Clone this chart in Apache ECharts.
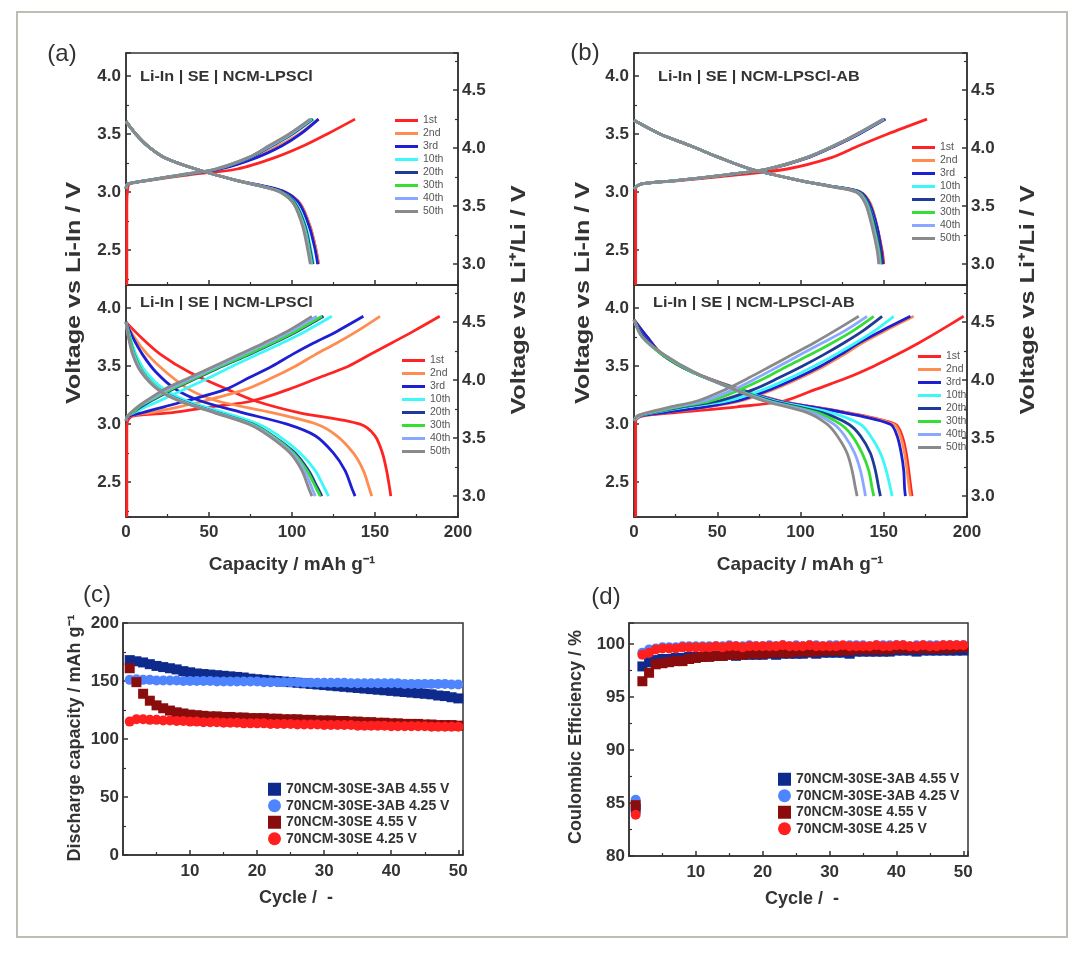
<!DOCTYPE html>
<html>
<head>
<meta charset="utf-8">
<script src="https://cdn.jsdelivr.net/npm/echarts@6/dist/echarts.min.js"></script>
<style>
  html, body { margin: 0; padding: 0; background: #fff; }
  #chart { width: 1084px; height: 958px; }
</style>
</head>
<body>
<div id="chart"></div>
<script>
const FONT = '"Liberation Sans", Arial, sans-serif'

const cycles = ['1st', '2nd', '3rd', '10th', '20th', '30th', '40th', '50th']
const cycleColors = ['#ff2424', '#ff8c50', '#1e1ed2', '#3cf8f8', '#1f3a98', '#35dd35', '#8aa8ff', '#8a8a8a']

// (a) top: Li-In | SE | NCM-LPSCl, cut-off 3.63 V vs Li-In
const aTopFirstRise = [[0.5, 2.2], [0.5, 2.9]]
const aTopChargeV = [3.03, 3.07, 3.10, 3.15, 3.20, 3.30, 3.40, 3.50, 3.63]
const aTopChargeCap = [
  [1, 2, 13, 38, 67, 90, 107, 121, 138],
  [0, 1, 12, 35, 56, 78, 92, 104, 116],
  [0, 1, 12, 34, 57, 79, 94, 105, 116],
  [0, 1, 12, 34, 55, 75, 88, 100, 113],
  [0, 1, 12, 34, 55, 75, 88, 100, 112.5],
  [0, 1, 12, 33, 54, 74, 87, 99, 112],
  [0, 1, 12, 33, 54, 74, 87, 99, 111.5],
  [0, 1, 12, 33, 54, 74, 86, 98, 111]
]
const aTopDischargeV = [3.61, 3.50, 3.40, 3.30, 3.20, 3.10, 3.05, 3.00, 2.90, 2.70, 2.50, 2.38]
const aTopDischargeCap = [
  [0, 6, 13, 23, 42, 67, 83, 96, 105, 111, 114.5, 116],
  [0, 6, 13, 23, 42, 67, 83, 96, 105, 111, 114.5, 116],
  [0, 6, 13, 23, 42, 67, 84, 96, 104.5, 110.5, 114, 115.5],
  [0, 6, 13, 23, 42, 67, 82, 94, 102.5, 108.5, 111.5, 113],
  [0, 6, 13, 23, 42, 67, 82, 94, 102, 108, 111, 112.5],
  [0, 6, 13, 23, 42, 67, 82, 93.5, 101.5, 107.5, 110.5, 112],
  [0, 6, 13, 23, 42, 67, 82, 93, 101, 107, 110, 111.5],
  [0, 6, 13, 23, 42, 67, 82, 93, 101, 106.5, 109.5, 111]
]

// (a) bottom: cut-off 3.93 V vs Li-In
const aBotFirstRise = [[0.5, 2.2], [0.5, 2.95]]
const aBotChargeV = [3.03, 3.07, 3.10, 3.15, 3.20, 3.30, 3.40, 3.50, 3.60, 3.70, 3.80, 3.93]
const aBotChargeCap = [
  [1, 4, 28, 52, 76, 98, 116, 134, 147, 160, 173, 189],
  [0, 2, 15, 32, 47, 72, 88, 102, 114, 127, 139, 153],
  [0, 2, 10, 23, 36, 60, 74, 88, 100, 113, 127, 143],
  [0, 1, 5, 12, 20, 35, 50, 64, 79, 94, 108, 124],
  [0, 1, 4, 9, 15, 28, 43, 58, 74, 89, 103, 119],
  [0, 1, 4, 8, 14, 27, 42, 57, 73, 88, 102, 118],
  [0, 1, 3, 7, 13, 25, 40, 55, 70, 85, 99, 115],
  [0, 1, 3, 7, 12, 23, 38, 53, 68, 83, 97, 112]
]
const aBotDischargeV = [3.88, 3.75, 3.60, 3.45, 3.30, 3.20, 3.10, 3.00, 2.90, 2.75, 2.60, 2.45, 2.38]
const aBotDischargeCap = [
  [0, 9, 21, 38, 61, 78, 104, 141, 150, 154.5, 157, 158.8, 159.5],
  [0, 5, 13, 24, 38, 55, 88, 115, 127, 137, 143, 146.5, 148],
  [0, 4, 10, 18, 30, 45, 70, 97, 114, 125, 132, 136, 138],
  [0, 2.5, 6, 12, 23, 37, 59, 80, 92, 105, 114, 119.5, 122],
  [0, 2, 5, 10, 20, 34, 55, 76.5, 88.5, 102, 110, 115.5, 118],
  [0, 2, 5, 10, 20, 33.5, 54.5, 76, 88, 101, 109, 114.5, 117],
  [0, 1.5, 4.5, 9.5, 19.5, 33, 54, 75, 87, 100, 107.5, 112, 114],
  [0, 1.5, 4, 9, 19, 32, 53, 74, 86, 99, 106, 110, 112]
]

// (b) top: Li-In | SE | NCM-LPSCl-AB
const bTopFirstRise = [[1, 2.2], [1, 2.95]]
const bTopChargeV = [3.03, 3.07, 3.10, 3.15, 3.20, 3.30, 3.40, 3.50, 3.63]
const bTopChargeCap = [
  [1, 4, 27, 62, 92, 119, 135, 152, 176],
  [0, 4, 25, 56, 81, 105, 121, 135, 151],
  [0, 4, 25, 56, 81, 105, 121, 135, 151],
  [0, 4, 25, 55, 80, 104, 120, 134, 150.5],
  [0, 4, 25, 55, 80, 104, 120, 134, 150.5],
  [0, 4, 25, 55, 80, 104, 120, 134, 150],
  [0, 4, 25, 55, 80, 104, 120, 134, 150],
  [0, 4, 25, 55, 80, 104, 120, 133.5, 149.5]
]
const bTopDischargeV = [3.62, 3.50, 3.40, 3.30, 3.20, 3.10, 3.05, 3.00, 2.90, 2.70, 2.50, 2.38]
const bTopDischargeCap = [
  [0, 16, 34, 51, 70, 100, 119, 136, 142, 146, 149, 150],
  [0, 16, 34, 51, 70, 100, 119, 136, 142, 146, 148.5, 149.5],
  [0, 16, 34, 51, 70, 100, 119, 136, 141.5, 146, 148.5, 149.5],
  [0, 16, 34, 51, 70, 100, 118.5, 135, 140.5, 145, 147.5, 148.5],
  [0, 16, 34, 51, 70, 100, 118.5, 135, 140.5, 145, 148, 149],
  [0, 16, 34, 51, 70, 100, 118, 134.5, 140, 144, 147, 148],
  [0, 16, 34, 51, 70, 100, 118, 134, 139.5, 143.5, 146.5, 147.5],
  [0, 16, 34, 51, 70, 100, 117.5, 133.5, 139, 143, 146, 147]
]

// (b) bottom
const bBotFirstRise = [[1, 2.2], [1, 2.95]]
const bBotChargeV = [3.03, 3.07, 3.10, 3.15, 3.20, 3.30, 3.40, 3.50, 3.60, 3.70, 3.80, 3.93]
const bBotChargeCap = [
  [1, 5, 25, 62, 90, 109, 128, 144, 158, 171, 183, 198],
  [0, 3, 19, 45, 64, 84, 100, 114, 126, 137, 150, 168],
  [0, 3, 18, 43, 62, 82, 98, 112, 124, 135, 148, 166],
  [0, 3, 12, 32, 56, 78, 94, 108, 121, 133, 144, 156],
  [0, 2, 11, 29, 51, 72, 87, 101, 114, 126, 137, 149],
  [0, 2, 10, 27, 46, 64, 79, 92, 106, 119, 131, 144],
  [0, 2, 9, 24, 42, 60, 74, 87, 100, 113, 126, 140],
  [0, 2, 8, 22, 38, 55, 69, 82, 95, 108, 120, 135]
]
const bBotDischargeV = [3.90, 3.75, 3.60, 3.45, 3.30, 3.20, 3.10, 3.00, 2.90, 2.75, 2.60, 2.45, 2.38]
const bBotDischargeCap = [
  [0, 8, 17, 35, 64, 88, 128, 157, 161, 163.5, 165, 166.3, 167],
  [0, 8, 17, 35, 64, 88, 127, 156, 160, 162.5, 164, 165.3, 166],
  [0, 8, 17, 35, 63, 87, 126, 154, 158, 160.5, 162, 162.5, 163],
  [0, 6, 17, 35, 62, 85, 118, 136, 142, 148, 151.5, 154, 155],
  [0, 6, 17, 35, 61, 83, 113, 129, 136, 142, 145, 147, 148],
  [0, 5, 17, 35, 61, 81, 110, 124, 131, 137, 141, 143, 144],
  [0, 5, 18, 36, 60, 80, 107, 120, 126.5, 132.5, 136, 138.2, 139],
  [0, 5, 18, 36, 60, 78, 104, 116, 122, 128, 131, 133, 134]
]

// (c) discharge capacity vs cycle, (d) coulombic efficiency vs cycle
const cellNames = ['70NCM-30SE-3AB 4.55 V', '70NCM-30SE-3AB 4.25 V', '70NCM-30SE 4.55 V', '70NCM-30SE 4.25 V']
const cellColors = ['#0e2a8c', '#4f84ff', '#8a0c0c', '#ff1f1f']
const cellSymbols = ['rect', 'circle', 'rect', 'circle']

const capAB455 = [168, 167, 166, 164.5, 163, 162, 161, 160, 158.5, 157.5, 156.5, 156, 155.5, 155, 154.5, 154, 153.5, 153, 152, 151.5,
  151, 150.5, 150, 149.5, 149, 148.5, 148, 147.5, 147, 146.5, 146, 145.5, 145, 144.5, 144, 143.5, 143, 142.5, 142, 141.5,
  141, 140.5, 140, 139.5, 139, 138.5, 137.5, 137, 136, 135]
const capAB425 = [151, 151.5, 151, 151, 150.5, 150.5, 150.5, 150.5, 150, 150, 150, 150, 150, 149.5, 149.5, 149.5, 149.5, 149.5, 149.5, 149.5,
  149, 149, 149, 149, 149, 149, 148.5, 148.5, 148.5, 148.5, 148.5, 148.5, 148.5, 148, 148, 148, 148, 148, 148, 148,
  148, 147.5, 147.5, 147.5, 147.5, 147.5, 147.5, 147.5, 147, 147]
const capSE455 = [161, 149, 139, 133, 129, 126.5, 124.5, 123, 122, 121, 120.5, 120, 119.5, 119.5, 119, 119, 118.5, 118.5, 118, 118,
  118, 117.5, 117.5, 117, 117, 117, 116.5, 116.5, 116, 116, 116, 115.5, 115.5, 115, 115, 114.5, 114.5, 114, 114, 113.5,
  113.5, 113, 113, 113, 112.5, 112.5, 112, 112, 112, 111.5]
const capSE425 = [115, 117, 117, 116.5, 116.5, 116, 116, 115.5, 115.5, 115, 115, 114.5, 114.5, 114.5, 114, 114, 114, 113.5, 113.5, 113.5,
  113.5, 113, 113, 113, 113, 112.5, 112.5, 112.5, 112.5, 112, 112, 112, 112, 112, 111.5, 111.5, 111.5, 111.5, 111.5, 111,
  111, 111, 111, 111, 111, 110.5, 110.5, 110.5, 110.5, 110.5]

const ceAB455 = [84.5, 97.9, 98.3, 98.5, 98.6, 98.6, 98.7, 98.7, 98.8, 98.8, 98.8, 98.9, 98.9, 98.9, 99.0, 98.9, 99.0, 99.0, 99.0, 99.0,
  99.1, 99.0, 99.1, 99.1, 99.1, 99.1, 99.2, 99.1, 99.2, 99.2, 99.2, 99.2, 99.1, 99.3, 99.3, 99.3, 99.3, 99.3, 99.3, 99.4,
  99.4, 99.4, 99.3, 99.4, 99.4, 99.4, 99.4, 99.4, 99.4, 99.4]
const ceAB425 = [85.3, 99.2, 99.5, 99.6, 99.7, 99.7, 99.7, 99.8, 99.8, 99.8, 99.8, 99.8, 99.8, 99.8, 99.9, 99.8, 99.8, 99.9, 99.8, 99.8,
  99.9, 99.8, 99.9, 99.8, 99.9, 99.8, 99.9, 99.9, 99.8, 99.9, 99.9, 99.8, 99.9, 99.9, 99.9, 99.8, 99.9, 99.9, 99.9, 99.9,
  99.9, 99.8, 99.9, 99.9, 99.9, 99.9, 99.9, 99.9, 99.9, 99.9]
const ceSE455 = [84.8, 96.5, 97.3, 98.1, 98.2, 98.3, 98.4, 98.4, 98.6, 98.7, 98.8, 98.8, 98.9, 98.9, 99.0, 99.0, 99.0, 99.1, 99.1, 99.1,
  99.2, 99.2, 99.2, 99.2, 99.3, 99.3, 99.3, 99.3, 99.4, 99.4, 99.4, 99.4, 99.4, 99.5, 99.5, 99.5, 99.5, 99.5, 99.5, 99.6,
  99.6, 99.6, 99.6, 99.6, 99.6, 99.6, 99.6, 99.6, 99.7, 99.7]
const ceSE425 = [83.9, 99.0, 99.2, 99.5, 99.6, 99.6, 99.6, 99.7, 99.7, 99.7, 99.7, 99.7, 99.8, 99.7, 99.8, 99.8, 99.7, 99.8, 99.8, 99.8,
  99.8, 99.8, 99.9, 99.8, 99.8, 99.8, 99.9, 99.8, 99.8, 99.8, 99.8, 99.9, 99.8, 99.8, 99.8, 99.8, 99.9, 99.8, 99.8, 99.9,
  99.9, 99.8, 99.8, 99.9, 99.8, 99.8, 99.9, 99.9, 99.9, 99.9]

const capacitySets = [capAB455, capAB425, capSE455, capSE425]
const efficiencySets = [ceAB455, ceAB425, ceSE455, ceSE425]

// Li-In sits ~0.62 V above Li
const liInOffset = 0.62

const INK = '#333'

const baseAxis = {
  type: 'value',
  axisLine: { show: true, onZero: false, lineStyle: { color: INK, width: 1.5 } },
  axisTick: { show: true, inside: true, length: 5, lineStyle: { color: INK, width: 1.5 } },
  minorTick: { show: true, splitNumber: 2, length: 3, lineStyle: { color: INK, width: 1.2 } },
  splitLine: { show: false },
  minorSplitLine: { show: false },
  axisLabel: { color: INK, fontWeight: 'bold', fontSize: 17, fontFamily: FONT, margin: 5 }
}

function axis(extra, label) {
  return Object.assign({}, baseAxis, extra, {
    axisLabel: Object.assign({}, baseAxis.axisLabel, label || {})
  })
}

const oneDecimal = v => v.toFixed(1)

const grids = [
  { left: 126, top: 53, width: 332, height: 232 },
  { left: 126, top: 285, width: 332, height: 232 },
  { left: 634, top: 53, width: 333, height: 232 },
  { left: 634, top: 285, width: 333, height: 232 },
  { left: 123, top: 623, width: 340, height: 232 },
  { left: 629, top: 623, width: 339, height: 233 }
].map(g => Object.assign(g, { show: true, borderColor: INK, borderWidth: 1.5, backgroundColor: 'transparent' }))

const xAxes = []
const yAxes = []
for (let g = 0; g < 4; g++) {
  const lower = g % 2 === 1
  xAxes.push(axis({ gridIndex: g, min: 0, max: 200, interval: 50 },
    { show: lower, margin: 7 }))
  yAxes.push(axis({ gridIndex: g, position: 'left', min: 2.2, max: 4.2, splitNumber: 4 },
    { formatter: oneDecimal, showMinLabel: false, showMaxLabel: false }))
  yAxes.push(axis({ gridIndex: g, position: 'right', min: 2.2 + liInOffset, max: 4.2 + liInOffset, splitNumber: 4 },
    { formatter: oneDecimal, showMinLabel: false, showMaxLabel: false, margin: 4 }))
}
for (let g = 4; g < 6; g++) {
  xAxes.push(axis({ gridIndex: g, min: 0, max: 50.7, interval: 10 },
    { margin: 8, showMaxLabel: false, formatter: v => (v === 0 ? '' : String(v)) }))
}
yAxes.push(axis({ gridIndex: 4, min: 0, max: 200, interval: 50 }, { margin: 4 }))
yAxes.push(axis({ gridIndex: 5, min: 80, max: 102, interval: 5 }, { margin: 4, showMaxLabel: false }))

const series = []

function addProfiles(g, firstRise, chargeV, chargeCap, dischargeV, dischargeCap) {
  cycles.forEach((name, i) => {
    let charge = chargeV.map((v, k) => [chargeCap[i][k], v])
    if (i === 0) charge = firstRise.concat(charge)
    const discharge = dischargeV.map((v, k) => [dischargeCap[i][k], v])
    ;[charge, discharge].forEach(data => {
      series.push({
        type: 'line',
        name,
        xAxisIndex: g,
        yAxisIndex: g * 2,
        data,
        symbol: 'none',
        smooth: 0.3,
        itemStyle: { color: cycleColors[i] },
        lineStyle: { color: cycleColors[i], width: 2.8 },
        silent: true
      })
    })
  })
}

addProfiles(0, aTopFirstRise, aTopChargeV, aTopChargeCap, aTopDischargeV, aTopDischargeCap)
addProfiles(1, aBotFirstRise, aBotChargeV, aBotChargeCap, aBotDischargeV, aBotDischargeCap)
addProfiles(2, bTopFirstRise, bTopChargeV, bTopChargeCap, bTopDischargeV, bTopDischargeCap)
addProfiles(3, bBotFirstRise, bBotChargeV, bBotChargeCap, bBotDischargeV, bBotDischargeCap)

function addCycling(g, yIdx, sets) {
  sets.forEach((vals, i) => {
    series.push({
      type: 'scatter',
      name: cellNames[i],
      xAxisIndex: g,
      yAxisIndex: yIdx,
      data: vals.map((v, k) => [k + 1, v]),
      symbol: cellSymbols[i],
      symbolSize: 10,
      itemStyle: { color: cellColors[i], opacity: 1 },
      silent: true
    })
  })
}
addCycling(4, 8, capacitySets)
addCycling(5, 9, efficiencySets)

function cycleLegend(left, top) {
  return {
    data: cycles, orient: 'vertical', left, top,
    icon: 'rect', itemWidth: 23, itemHeight: 3, itemGap: 0,
    selectedMode: false,
    textStyle: { color: '#555', fontSize: 10.5, fontFamily: FONT, lineHeight: 13 }
  }
}
function cellLegend(left, top) {
  return {
    data: cellNames, orient: 'vertical', left, top,
    itemWidth: 13, itemHeight: 13, itemGap: 0,
    selectedMode: false,
    textStyle: { color: INK, fontSize: 14, fontWeight: 'bold', fontFamily: FONT, lineHeight: 16.5 }
  }
}

function text(str, x, y, size, opts) {
  opts = opts || {}
  return {
    type: 'text', x, y, z: 100,
    rotation: opts.rotate ? Math.PI / 2 : 0,
    scaleX: opts.scaleX || 1,
    style: {
      text: str,
      fill: INK,
      font: (opts.weight || 'bold') + ' ' + size + 'px ' + FONT,
      textAlign: opts.align || 'center',
      textVerticalAlign: 'middle',
      align: opts.align || 'center',
      verticalAlign: 'middle'
    }
  }
}

const graphic = [
  { type: 'rect', shape: { x: 17, y: 12, width: 1050, height: 925 },
    style: { fill: 'none', stroke: '#bdbdb5', lineWidth: 2 } },
  text('(a)', 62, 54, 24, { weight: 'normal' }),
  text('(b)', 585, 53, 24, { weight: 'normal' }),
  text('(c)', 97, 595, 24, { weight: 'normal' }),
  text('(d)', 606, 597, 24, { weight: 'normal' }),
  text('Voltage vs Li-In / V', 74, 293, 21, { rotate: true, scaleX: 1.2 }),
  text('Voltage vs Li\u207A/Li / V', 519, 300, 21, { rotate: true, scaleX: 1.2 }),
  text('Voltage vs Li-In / V', 583, 293, 21, { rotate: true, scaleX: 1.2 }),
  text('Voltage vs Li\u207A/Li / V', 1028, 300, 21, { rotate: true, scaleX: 1.2 }),
  text('Capacity / mAh g\u207B\u00B9', 292, 565, 19),
  text('Capacity / mAh g\u207B\u00B9', 800, 565, 19),
  text('Li-In | SE | NCM-LPSCl', 140, 77, 15, { align: 'left', scaleX: 1.08 }),
  text('Li-In | SE | NCM-LPSCl', 140, 303, 15, { align: 'left', scaleX: 1.08 }),
  text('Li-In | SE | NCM-LPSCl-AB', 658, 77, 15, { align: 'left', scaleX: 1.08 }),
  text('Li-In | SE | NCM-LPSCl-AB', 653, 303, 15, { align: 'left', scaleX: 1.08 }),
  text('Discharge capacity / mAh g\u207B\u00B9', 75, 738, 18, { rotate: true }),
  text('Coulombic Efficiency / %', 576, 737, 18, { rotate: true }),
  text('Cycle /  -', 296, 898, 18),
  text('Cycle /  -', 802, 899, 18)
]

const chart = echarts.init(document.getElementById('chart'))
chart.setOption({
  animation: false,
  backgroundColor: '#fff',
  grid: grids,
  xAxis: xAxes,
  yAxis: yAxes,
  legend: [
    cycleLegend(390, 109),
    cycleLegend(397, 349),
    cycleLegend(907, 136),
    cycleLegend(913, 345),
    cellLegend(263, 776),
    cellLegend(773, 766)
  ],
  graphic,
  series
})
</script>
</body>
</html>
